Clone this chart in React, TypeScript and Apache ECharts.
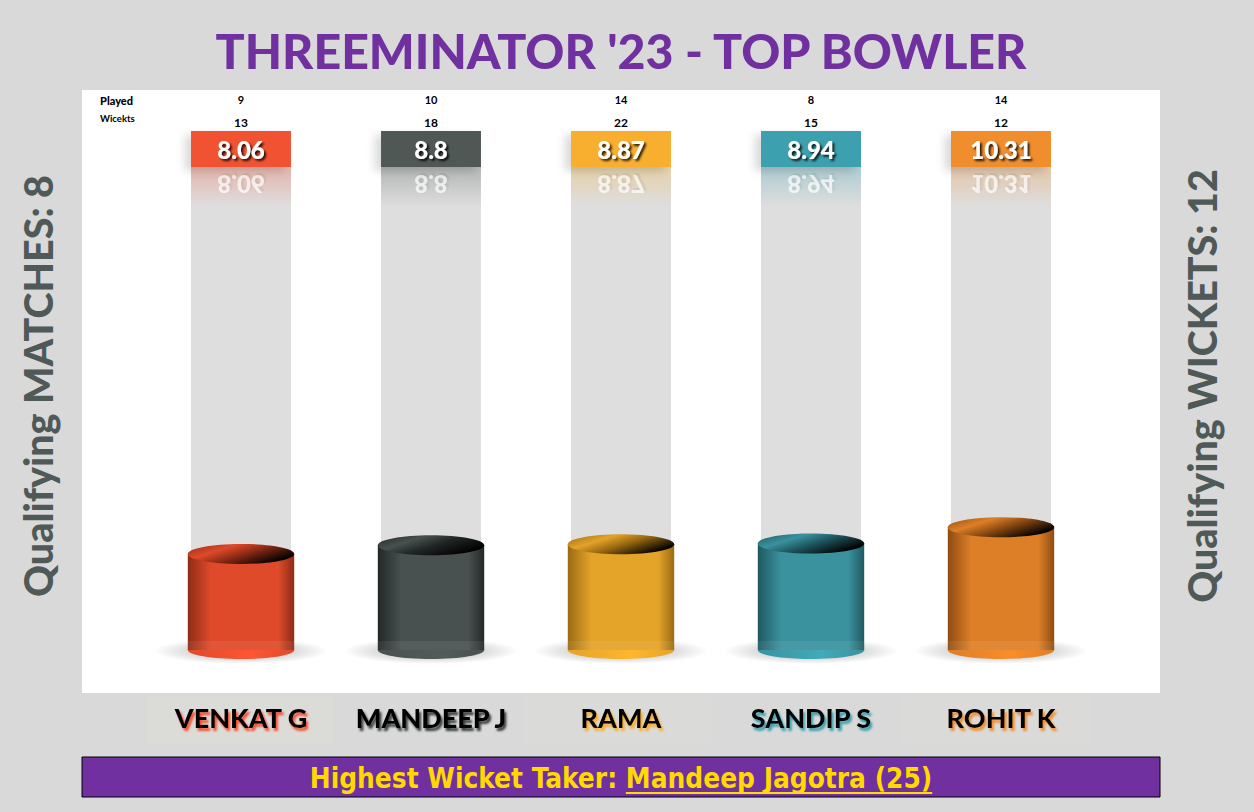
import React, { useEffect, useRef } from "react";
import * as echarts from "echarts";

// ---- data ----
const bowlers = ["VENKAT G", "MANDEEP J", "RAMA", "SANDIP S", "ROHIT K"];
const economy = [8.06, 8.8, 8.87, 8.94, 10.31];
const played = [9, 10, 14, 8, 14];
const wickets = [13, 18, 22, 15, 12];
const chartTitle = "THREEMINATOR '23 - TOP BOWLER";
const qualifyingMatches = 8;
const qualifyingWickets = 12;
const topWicketTaker = "Mandeep Jagotra";
const topWicketCount = 25;

// ---- styles ----
const palette = [
  { box: "#f15233", body: "#df4a2a", edge: "#8e2c16", bottom: "#ff5634", shadow: "#f15233" },
  { box: "#4f5855", body: "#48514f", edge: "#222827", bottom: "#525b58", shadow: "#3a3f3e" },
  { box: "#f8ae2d", body: "#e4a329", edge: "#9a6a12", bottom: "#ffb62b", shadow: "#f8ae2d" },
  { box: "#3ca0af", body: "#3a929f", edge: "#1f5961", bottom: "#41abb8", shadow: "#3ca0af" },
  { box: "#f08e2d", body: "#dd7f27", edge: "#8f4c12", bottom: "#f98d2a", shadow: "#f08e2d" },
];

function rgba(hex: string, a: number) {
  const h = hex.replace("#", "");
  const r = parseInt(h.slice(0, 2), 16);
  const g = parseInt(h.slice(2, 4), 16);
  const b = parseInt(h.slice(4, 6), 16);
  return `rgba(${r},${g},${b},${a})`;
}

function measure(text: string, font: string) {
  const ctx = document.createElement("canvas").getContext("2d")!;
  ctx.font = font;
  return ctx.measureText(text).width;
}
function fitSize(text: string, weight: string, family: string, target: number) {
  const w = measure(text, `${weight} 100px ${family}`);
  return (100 * target) / w;
}

export default function App() {
  const ref = useRef<HTMLDivElement>(null);
  useEffect(() => {
    if (!ref.current) return;
    const chart = echarts.init(ref.current, undefined, { renderer: "svg" });

    const titleFamily = "Lato";
    const titleSize = fitSize(chartTitle, "900", titleFamily, 814);
    const sideFamily = "Lato";
    const leftText = `Qualifying MATCHES: ${qualifyingMatches}`;
    const rightText = `Qualifying WICKETS: ${qualifyingWickets}`;
    const sideSize = fitSize(leftText, "900", sideFamily, 422);

    const bannerFamily = "'DejaVu Sans Condensed'";
    const part1 = "Highest Wicket Taker: ";
    const part2 = `${topWicketTaker} (${topWicketCount})`;
    const bannerSize = fitSize(part1 + part2, "bold", bannerFamily, 623);
    const w1 = measure(part1, `bold ${bannerSize}px ${bannerFamily}`);
    const w2 = measure(part2, `bold ${bannerSize}px ${bannerFamily}`);
    const bannerStart = 621 - (w1 + w2) / 2;

    const nameRich: Record<string, any> = {};
    palette.forEach((p, i) => {
      nameRich["n" + i] = {
        fontFamily: "Lato",
        fontWeight: 900,
        fontSize: 27,
        color: "#000",
        textShadowColor: p.shadow,
        textShadowOffsetX: 2,
        textShadowOffsetY: 3,
        textShadowBlur: 2,
      };
    });

    const option: any = {
      animation: false,
      backgroundColor: "#d9d9d9",
      grid: { left: 146, right: 158, top: 90, bottom: 162 },
      xAxis: {
        type: "category",
        data: bowlers,
        axisLine: { show: false },
        axisTick: { show: false },
        splitLine: { show: false },
        axisLabel: {
          margin: 54,
          formatter: (v: string, i: number) => `{n${i}|${v}}`,
          rich: nameRich,
        },
      },
      yAxis: { type: "value", min: 0, max: 47, show: false },
      graphic: [
        { type: "rect", z: -10, shape: { x: 82, y: 90, width: 1078, height: 603 }, style: { fill: "#ffffff" } },
        { type: "rect", z: -10, shape: { x: 146, y: 695, width: 188, height: 50 }, style: { fill: "#dbdbd8" } },
        { type: "rect", z: -10, shape: { x: 522, y: 695, width: 190, height: 50 }, style: { fill: "#dadad8" } },
        { type: "rect", z: -10, shape: { x: 902, y: 695, width: 190, height: 50 }, style: { fill: "#dadad9" } },
        {
          type: "text",
          x: 621,
          y: 50,
          style: {
            text: chartTitle,
            fontFamily: titleFamily,
            fontWeight: 900,
            fontSize: titleSize,
            fill: "#7030a0",
            align: "center",
            verticalAlign: "middle",
          },
        },
        {
          type: "text",
          x: 37,
          y: 386,
          rotation: Math.PI / 2,
          style: {
            text: leftText,
            fontFamily: sideFamily,
            fontWeight: 900,
            fontSize: sideSize,
            fill: "#4f5a58",
            align: "center",
            verticalAlign: "middle",
          },
        },
        {
          type: "text",
          x: 1201,
          y: 386,
          rotation: Math.PI / 2,
          style: {
            text: rightText,
            fontFamily: sideFamily,
            fontWeight: 900,
            fontSize: sideSize,
            fill: "#4f5a58",
            align: "center",
            verticalAlign: "middle",
          },
        },
        {
          type: "text",
          x: 100,
          y: 100,
          style: { text: "Played", fontFamily: "Lato", fontWeight: 900, fontSize: 11, fill: "#000", align: "left", verticalAlign: "middle" },
        },
        {
          type: "text",
          x: 100,
          y: 118,
          style: { text: "Wicekts", fontFamily: "Lato", fontWeight: "bold", fontSize: 9.5, fill: "#000", align: "left", verticalAlign: "middle" },
        },
        {
          type: "rect",
          shape: { x: 82, y: 757, width: 1078, height: 40 },
          style: { fill: "#7030a0", stroke: "#000", lineWidth: 1 },
        },
        {
          type: "text",
          x: bannerStart,
          y: 778,
          style: { text: part1, fontFamily: bannerFamily, fontWeight: "bold", fontSize: bannerSize, fill: "#ffd900", align: "left", verticalAlign: "middle" },
        },
        {
          type: "text",
          x: bannerStart + w1,
          y: 778,
          style: { text: part2, fontFamily: bannerFamily, fontWeight: "bold", fontSize: bannerSize, fill: "#ffd900", align: "left", verticalAlign: "middle" },
        },
        {
          type: "line",
          shape: { x1: bannerStart + w1, y1: 793, x2: bannerStart + w1 + w2, y2: 793 },
          style: { stroke: "#ffd900", lineWidth: 2 },
        },
      ],
      series: [
        {
          type: "custom",
          clip: false,
          data: bowlers.map((_, i) => [i, economy[i]]),
          encode: { x: 0, y: 1 },
          renderItem: (params: any, api: any) => {
            const i = api.value(0) as number;
            const v = api.value(1) as number;
            const base = api.coord([i, 0]);
            const top = api.coord([i, v]);
            const cx = base[0];
            const band = api.size([1, 0])[0];
            const tubeW = band * 0.526;
            const cylW = band * 0.56;
            const p = palette[i];
            const gridTop = params.coordSys.y;
            const boxTop = gridTop + 41;
            const boxH = 36;
            const boxBot = boxTop + boxH;
            const ry = 9;
            const label = String(economy[i]);
            return {
              type: "group",
              children: [
                // glass tube
                {
                  type: "rect",
                  shape: { x: cx - tubeW / 2, y: boxBot, width: tubeW, height: base[1] - boxBot },
                  style: { fill: "rgba(222,222,222,1)" },
                },
                // reflection tint
                {
                  type: "rect",
                  shape: { x: cx - tubeW / 2, y: boxBot, width: tubeW, height: 40 },
                  style: {
                    fill: new echarts.graphic.LinearGradient(0, 0, 0, 1, [
                      { offset: 0, color: rgba(p.box, 0.3) },
                      { offset: 1, color: rgba(p.box, 0) },
                    ]),
                  },
                },
                // reflected value
                {
                  type: "text",
                  x: cx,
                  y: boxBot,
                  scaleY: -1,
                  style: {
                    text: label,
                    x: 0,
                    y: -boxH / 2 + 1,
                    fontFamily: "Lato",
                    fontWeight: 900,
                    fontSize: 24,
                    fill: "rgba(255,255,255,0.7)",
                    align: "center",
                    verticalAlign: "middle",
                    textShadowColor: "rgba(0,0,0,0.1)",
                    textShadowBlur: 2,
                    textShadowOffsetX: 2,
                    textShadowOffsetY: -2,
                  },
                },
                // value box
                {
                  type: "rect",
                  shape: { x: cx - tubeW / 2, y: boxTop, width: tubeW, height: boxH },
                  style: {
                    fill: p.box,
                    shadowColor: "rgba(0,0,0,0.15)",
                    shadowBlur: 8,
                    shadowOffsetX: -6,
                    shadowOffsetY: 4,
                  },
                },
                {
                  type: "text",
                  x: cx,
                  y: boxTop + boxH / 2,
                  style: {
                    text: label,
                    fontFamily: "Lato",
                    fontWeight: 900,
                    fontSize: 24,
                    fill: "#ffffff",
                    align: "center",
                    verticalAlign: "middle",
                    textShadowColor: "rgba(0,0,0,0.85)",
                    textShadowBlur: 2,
                    textShadowOffsetX: 2,
                    textShadowOffsetY: 2,
                  },
                },
                // played / wickets
                {
                  type: "text",
                  x: cx,
                  y: gridTop + 9,
                  style: { text: String(played[i]), fontFamily: "Lato", fontWeight: "bold", fontSize: 11, fill: "#000", align: "center", verticalAlign: "middle" },
                },
                {
                  type: "text",
                  x: cx,
                  y: gridTop + 32,
                  style: { text: String(wickets[i]), fontFamily: "Lato", fontWeight: "bold", fontSize: 12, fill: "#000", align: "center", verticalAlign: "middle" },
                },
                // floor shadow
                {
                  type: "ellipse",
                  shape: { cx: cx, cy: base[1] + 1, rx: cylW * 0.82, ry: 13 },
                  style: {
                    fill: new echarts.graphic.RadialGradient(0.5, 0.5, 0.5, [
                      { offset: 0, color: "rgba(0,0,0,0.3)" },
                      { offset: 0.6, color: "rgba(0,0,0,0.14)" },
                      { offset: 1, color: "rgba(0,0,0,0)" },
                    ]),
                  },
                },
                // bottom ellipse
                {
                  type: "ellipse",
                  shape: { cx: cx, cy: base[1], rx: cylW / 2, ry: ry },
                  style: {
                    fill: new echarts.graphic.LinearGradient(0, 0, 1, 0, [
                      { offset: 0, color: p.body },
                      { offset: 0.6, color: p.bottom },
                      { offset: 1, color: p.body },
                    ]),
                  },
                },
                // body
                {
                  type: "rect",
                  shape: { x: cx - cylW / 2, y: top[1], width: cylW, height: base[1] - top[1] },
                  style: {
                    fill: new echarts.graphic.LinearGradient(0, 0, 1, 0, [
                      { offset: 0, color: p.edge },
                      { offset: 0.22, color: p.body },
                      { offset: 0.55, color: p.body },
                      { offset: 0.85, color: p.body },
                      { offset: 1, color: p.edge },
                    ]),
                  },
                },
                // lighter lower band
                {
                  type: "rect",
                  shape: { x: cx - cylW / 2, y: base[1] - 9, width: cylW, height: 9 },
                  style: { fill: "rgba(255,255,255,0.07)" },
                },
                // top ellipse
                {
                  type: "ellipse",
                  shape: { cx: cx, cy: top[1], rx: cylW / 2, ry: ry + 1 },
                  style: {
                    fill: new echarts.graphic.LinearGradient(0, 0, 1, 0.6, [
                      { offset: 0, color: p.edge },
                      { offset: 0.35, color: p.body },
                      { offset: 0.6, color: p.edge },
                      { offset: 1, color: "#000000" },
                    ]),
                  },
                },
              ],
            };
          },
        },
      ],
    };
    chart.setOption(option);
    return () => chart.dispose();
  }, []);
  return (
    <div
      ref={ref}
      style={{ position: "fixed", left: 0, top: 0, width: 1254, height: 812 }}
    />
  );
}
